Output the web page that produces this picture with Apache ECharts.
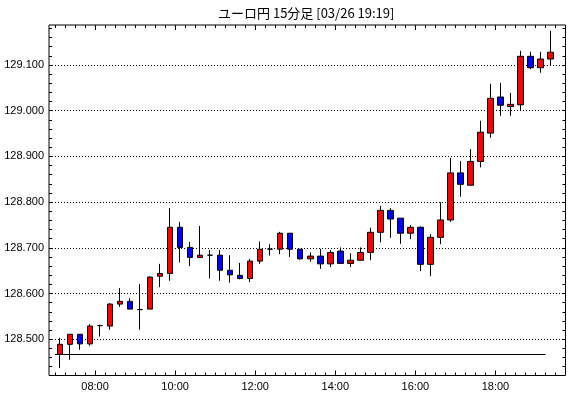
<!DOCTYPE html>
<html lang="ja">
<head>
<meta charset="UTF-8">
<title>ユーロ円 15分足</title>
<script src="https://cdn.jsdelivr.net/npm/echarts@6/dist/echarts.min.js"></script>
<style>
  html, body { margin: 0; padding: 0; background: #fff; }
  #main { width: 570px; height: 398px; }
</style>
</head>
<body>
<div id="main"></div>
<script>
// 15分足の開始時刻
var times = ['07:00','07:15','07:30','07:45','08:00','08:15','08:30','08:45','09:00','09:15',
             '09:30','09:45','10:00','10:15','10:30','10:45','11:00','11:15','11:30','11:45',
             '12:00','12:15','12:30','12:45','13:00','13:15','13:30','13:45','14:00','14:15',
             '14:30','14:45','15:00','15:15','15:30','15:45','16:00','16:15','16:30','16:45',
             '17:00','17:15','17:30','17:45','18:00','18:15','18:30','18:45','19:00','19:15'];
var opens  = [128.467,128.489,128.511,128.490,128.530,128.529,128.577,128.583,128.565,128.566,
              128.638,128.644,128.745,128.701,128.679,128.684,128.684,128.651,128.640,128.633,
              128.671,128.697,128.697,128.732,128.697,128.676,128.682,128.665,128.693,128.666,
              128.673,128.690,128.734,128.782,128.765,128.732,128.745,128.664,128.723,128.761,
              128.864,128.837,128.889,128.951,129.030,129.009,129.013,129.119,129.094,129.113];
var closes = [128.489,128.511,128.490,128.529,128.530,128.577,128.583,128.566,128.565,128.636,
              128.644,128.745,128.701,128.679,128.684,128.684,128.651,128.641,128.633,128.671,
              128.697,128.697,128.732,128.697,128.676,128.682,128.665,128.690,128.666,128.673,
              128.690,128.734,128.782,128.763,128.732,128.745,128.664,128.723,128.761,128.864,
              128.839,128.889,128.953,129.027,129.012,129.014,129.119,129.094,129.113,129.128];
var lows   = [128.437,128.455,128.477,128.486,128.506,128.521,128.571,128.566,128.521,128.566,
              128.614,128.628,128.668,128.660,128.679,128.633,128.628,128.624,128.631,128.625,
              128.665,128.683,128.686,128.680,128.674,128.670,128.654,128.658,128.666,128.658,
              128.673,128.673,128.712,128.722,128.709,128.719,128.649,128.638,128.708,128.757,
              128.812,128.837,128.876,128.941,128.989,128.989,129.001,129.091,129.083,129.100];
var highs  = [128.503,128.511,128.511,128.533,128.532,128.579,128.612,128.590,128.621,128.638,
              128.665,128.787,128.757,128.713,128.748,128.695,128.695,128.684,128.667,128.676,
              128.714,128.708,128.735,128.732,128.697,128.690,128.698,128.695,128.701,128.688,
              128.701,128.744,128.792,128.787,128.765,128.750,128.747,128.730,128.800,128.897,
              128.890,128.916,128.978,129.059,129.061,129.039,129.131,129.129,129.129,129.175];

var xLabels = ['08:00','10:00','12:00','14:00','16:00','18:00'];
var yLabels = [128.5, 128.6, 128.7, 128.8, 128.9, 129.0, 129.1];

function toMin(t) {
    var p = t.split(':');
    return +p[0] * 60 + +p[1];
}
function fmtTime(v) {
    var h = Math.floor(v / 60), m = Math.round(v % 60);
    return (h < 10 ? '0' : '') + h + ':' + (m < 10 ? '0' : '') + m;
}

var xMin = 411, xMax = 1185;      // 06:51 - 19:45
var yMin = 128.4208, yMax = 129.1875;

var candles = [];
for (var i = 0; i < times.length; i++) {
    // 足の中央に置く
    candles.push([toMin(times[i]) + 7.5, opens[i], closes[i], lows[i], highs[i]]);
}

var majorX = xLabels.map(toMin);
var minorX = [];
for (var t = toMin(times[0]); t < xMax; t += 15) minorX.push(t);
var minorY = [];
for (var k = 0; ; k++) {
    var v = +(128.44 + k * 0.02).toFixed(2);
    if (v > yMax) break;
    minorY.push(v);
}

var font = 'Liberation Sans, Arial, sans-serif';

function xAxisDef(pos, vals, len, labels) {
    return {
        type: 'value', position: pos, min: xMin, max: xMax,
        axisLine: {show: false},
        splitLine: {show: false},
        axisTick: {show: true, inside: true, length: len, customValues: vals,
                   lineStyle: {color: '#000', width: 1}},
        axisLabel: labels ? {
            show: true, customValues: vals, margin: 6,
            color: '#000', fontSize: 11, fontFamily: font,
            formatter: fmtTime
        } : {show: false}
    };
}
function yAxisDef(pos, vals, len, labels) {
    return {
        type: 'value', position: pos, min: yMin, max: yMax, scale: true,
        axisLine: {show: false},
        splitLine: labels ? {show: true, lineStyle: {color: '#000', width: 1, type: [1, 2]}} : {show: false},
        axisTick: {show: true, inside: true, length: len, customValues: vals,
                   lineStyle: {color: '#000', width: 1}},
        axisLabel: labels ? {
            show: true, customValues: vals, margin: 5,
            color: '#000', fontSize: 11, fontFamily: font,
            formatter: function (v) { return v.toFixed(3); }
        } : {show: false}
    };
}

var chart = echarts.init(document.getElementById('main'));
chart.setOption({
    animation: false,
    backgroundColor: '#fff',
    title: {
        text: 'ユーロ円 15分足 [03/26 19:19]',
        left: 218, top: 7, padding: 0,
        textStyle: {color: '#000', fontSize: 13, fontWeight: 'normal',
                    fontFamily: 'Noto Sans CJK JP, sans-serif'}
    },
    grid: {
        left: 49, right: 4.5, top: 25, bottom: 22.5,
        show: true, borderColor: '#000', borderWidth: 1, backgroundColor: '#fff'
    },
    xAxis: [
        xAxisDef('bottom', majorX, 5, true),
        xAxisDef('bottom', minorX, 3, false),
        xAxisDef('top', majorX, 5, false),
        xAxisDef('top', minorX, 3, false)
    ],
    yAxis: [
        yAxisDef('left', yLabels, 3, true),
        yAxisDef('left', minorY, 3, false),
        yAxisDef('right', minorY, 3, false)
    ],
    series: [{
        type: 'candlestick',
        xAxisIndex: 0,
        yAxisIndex: 0,
        barWidth: 6,
        data: candles,
        itemStyle: {
            color: '#ff0000', color0: '#0000ff',
            borderColor: '#000', borderColor0: '#000', borderColorDoji: '#000',
            borderWidth: 1
        },
        markLine: {
            silent: true,
            symbol: 'none',
            label: {show: false},
            lineStyle: {color: '#000', width: 1, type: 'solid'},
            data: [[
                {coord: [toMin(times[0]), opens[0]]},
                {coord: [toMin(times[times.length - 1]), opens[0]]}
            ]]
        }
    }]
});
</script>
</body>
</html>
